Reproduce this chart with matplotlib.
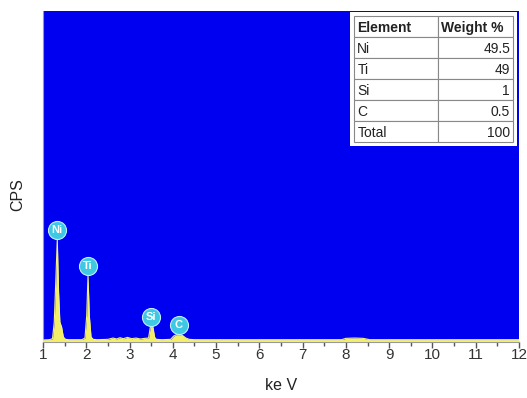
import matplotlib
matplotlib.use("Agg")
import matplotlib.pyplot as plt
import matplotlib.transforms as mtrans
import numpy as np

plt.rcParams["font.family"] = ["Liberation Sans", "DejaVu Sans"]

# spectrum points (keV, relative CPS)
energy = [1.00, 1.15, 1.22, 1.26, 1.30, 1.33, 1.36, 1.39, 1.43, 1.47, 1.52, 1.60,
          1.90, 1.97, 2.01, 2.04, 2.07, 2.11, 2.16, 2.25, 2.50, 2.62, 2.70, 2.78,
          2.86, 2.95, 3.05, 3.15, 3.25, 3.35, 3.44, 3.48, 3.50, 3.54, 3.58, 3.62,
          3.75, 3.95, 4.02, 4.08, 4.14, 4.22, 4.30, 4.38, 4.50, 5.00, 6.00, 7.00,
          7.90, 8.00, 8.20, 8.40, 8.55, 9.00, 10.00, 11.00, 12.00]
cps = [0.006, 0.007, 0.010, 0.060, 0.200, 0.310, 0.150, 0.060, 0.045, 0.015, 0.008, 0.007,
       0.007, 0.012, 0.080, 0.200, 0.080, 0.015, 0.008, 0.007, 0.008, 0.012, 0.009, 0.013,
       0.010, 0.014, 0.010, 0.012, 0.009, 0.011, 0.012, 0.045, 0.047, 0.045, 0.014, 0.008,
       0.007, 0.008, 0.018, 0.022, 0.022, 0.020, 0.012, 0.008, 0.007, 0.007, 0.007, 0.007,
       0.007, 0.011, 0.012, 0.011, 0.007, 0.007, 0.007, 0.007, 0.007]

peak_labels = ["Ni", "Ti", "Si", "C"]
peak_e = [1.33, 2.04, 3.50, 4.14]
peak_h = [0.310, 0.200, 0.047, 0.022]

elements = ["Ni", "Ti", "Si", "C", "Total"]
weights = ["49.5", "49", "1", "0.5", "100"]

fig = plt.figure(figsize=(5.27, 3.98), dpi=100)
ax = fig.add_axes([43/527, 56/398, 476/527, 331/398])
ax.set_facecolor("#0000f0")

ax.fill_between(energy, 0, cps, color="#f2ee6a", lw=0, zorder=2)
ax.plot(energy, cps, color="#f6f27a", lw=0.8, zorder=3)
ax.axhline(0.003, color="#f2ee6a", lw=2.0, zorder=3)

ax.set_xlim(1, 12)
ax.set_ylim(0, 1)
ax.set_xticks(range(1, 13))
ax.set_xticks(np.arange(1.5, 12, 1.0), minor=True)
ax.tick_params(axis="x", direction="out", length=4, width=1, color="#555555",
               labelsize=11, labelcolor="#333333", pad=0)
ax.tick_params(axis="x", which="minor", length=3, width=1, color="#555555")
ax.set_yticks([])
for s in ["top", "right"]:
    ax.spines[s].set_visible(False)
ax.spines["left"].set_color("#999999")
ax.spines["bottom"].set_color("#999999")

fig.text(281/527, 1 - 386/398, "ke V", fontsize=11.5, color="#222222",
         ha="center", va="center")
fig.text(18/527, 1 - 195/398, "CPS", rotation=90, fontsize=11.5, color="#222222",
         ha="center", va="center")

# element markers above peaks
for lab, e, h in zip(peak_labels, peak_e, peak_h):
    tr = mtrans.offset_copy(ax.transData, fig=fig, x=0, y=7, units="points")
    ax.plot([e], [h], "o", ms=13, mfc="#3fc8e4", mec="#bfeff8", mew=0.8,
            transform=tr, zorder=5, clip_on=False)
    ax.text(e, h, lab, transform=tr, ha="center", va="center", fontsize=8,
            color="white", fontweight="bold", zorder=6)

# table inset
bx0, bw = (354-43)/476, (513-354)/476
by0, bh = (342-142)/331, (142-16)/331
ax.add_patch(plt.Rectangle((bx0-0.008, by0-0.012), bw+0.016, bh+0.024,
                           transform=ax.transAxes, facecolor="white",
                           edgecolor="none", zorder=7))
cell_text = [[el, w] for el, w in zip(elements, weights)]
tbl = ax.table(cellText=cell_text, colLabels=["Element", "Weight %"],
               bbox=[bx0, by0, bw, bh], colWidths=[0.53, 0.47])
tbl.auto_set_font_size(False)
tbl.set_fontsize(10)
tbl.set_zorder(8)
for (r, c), cell in tbl.get_celld().items():
    cell.set_edgecolor("#888888")
    cell.set_linewidth(0.8)
    cell.PAD = 0.04
    txt = cell.get_text()
    txt.set_color("#222222")
    txt.set_va("center_baseline")
    if r == 0:
        txt.set_fontweight("bold")
        txt.set_ha("left")
        cell._loc = "left"
    elif c == 0:
        txt.set_ha("left")
        cell._loc = "left"
    else:
        txt.set_ha("right")
        cell._loc = "right"

fig.savefig("out.png", dpi=100)
